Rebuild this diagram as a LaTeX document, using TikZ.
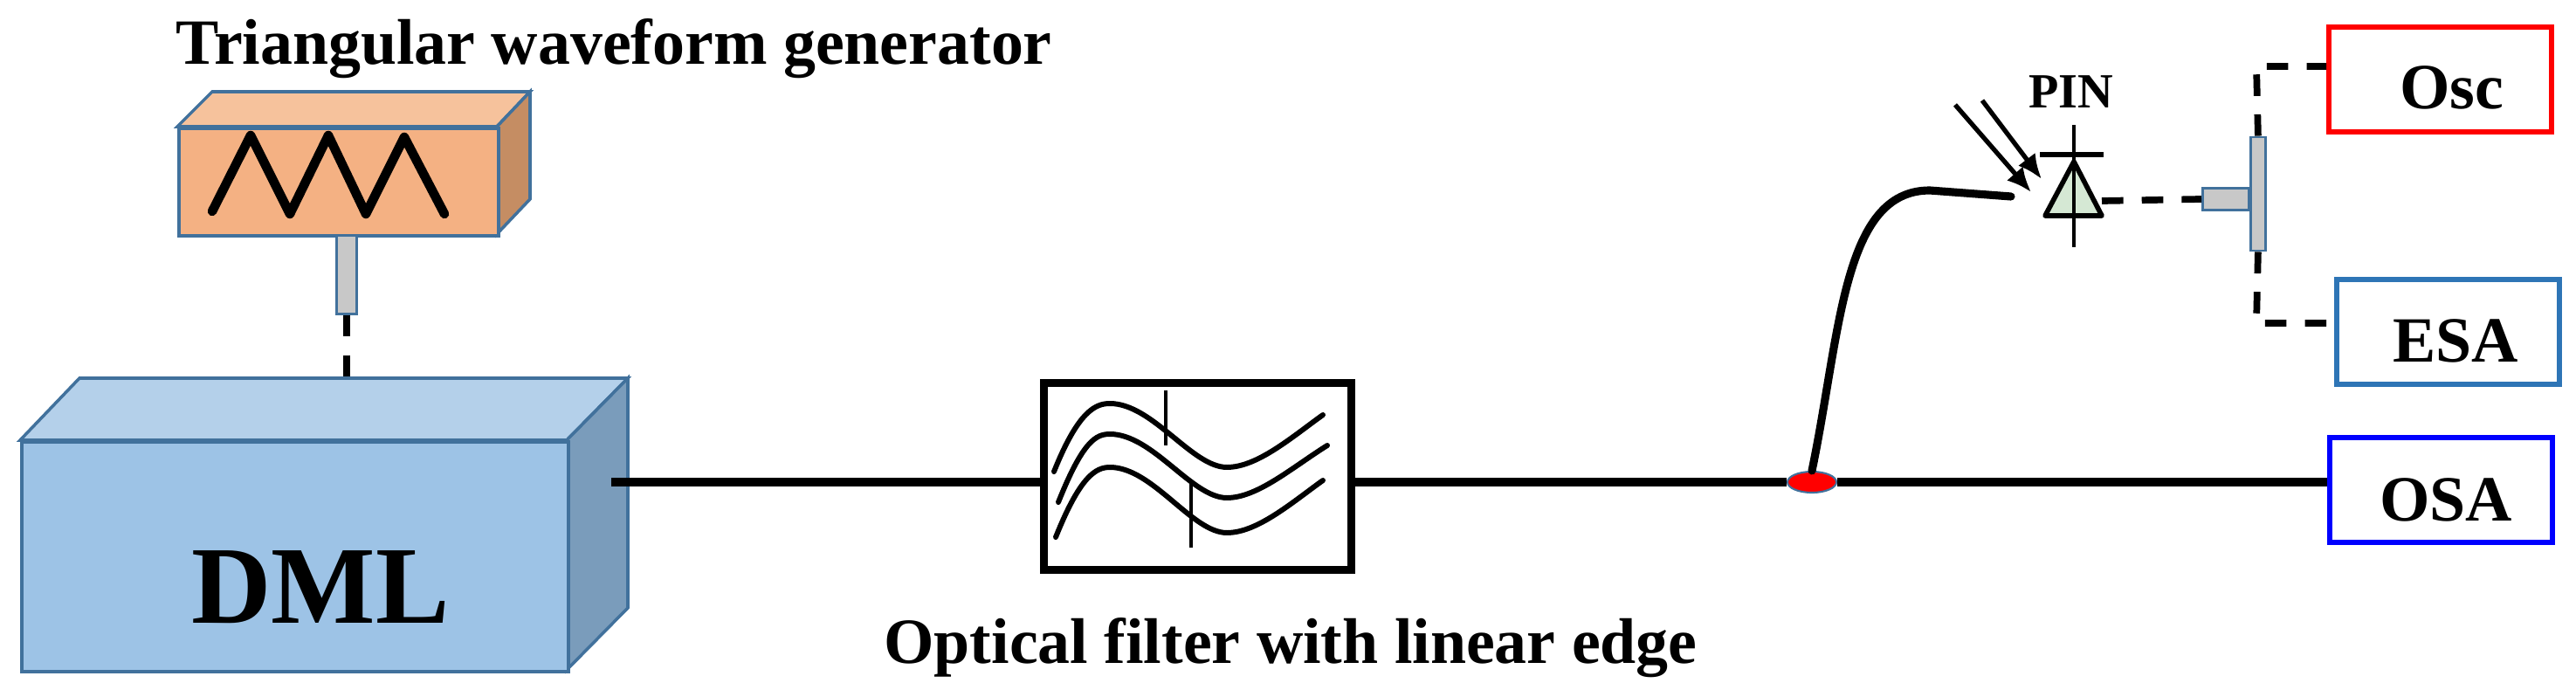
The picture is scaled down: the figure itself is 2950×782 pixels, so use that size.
\documentclass[tikz,border=0pt]{standalone}
\usepackage{fontspec}
\setmainfont{Liberation Serif}
\usetikzlibrary{arrows.meta,shapes.geometric}
\definecolor{genfront}{HTML}{F4B183}
\definecolor{gentop}{HTML}{F6C29C}
\definecolor{genside}{HTML}{C58D63}
\definecolor{dmlfront}{HTML}{9DC3E6}
\definecolor{dmltop}{HTML}{B4D0EA}
\definecolor{dmlside}{HTML}{7A9CBB}
\definecolor{edgeblue}{HTML}{41719C}
\definecolor{esablue}{HTML}{2E75B6}
\definecolor{stubgray}{HTML}{C8C8C8}
\definecolor{pingreen}{HTML}{D5E8D4}
\tikzset{
  lbl/.style={font=\bfseries\fontsize{21}{24}\selectfont, inner sep=0pt},
  fiber/.style={line width=2.6pt, black},
  elec/.style={line width=2.2pt, dash pattern=on 7pt off 6pt},
  instr/.style={draw, line width=1.6pt, fill=white, minimum width=2.55cm, minimum height=1.2cm},
  stub/.style={draw=edgeblue, fill=stubgray, line width=0.8pt},
  curve/.style={line width=1.7pt, line cap=round},
}
\begin{document}
\begin{tikzpicture}[x=0.01cm,y=-0.01cm]
\useasboundingbox (0,0) rectangle (2950,782);
% title
\node[lbl] (title) at (703,56) {Triangular waveform generator};
% generator box
\fill[gentop, draw=edgeblue, line width=1pt] (203,145) -- (243,105) -- (607,105) -- (569,145) -- cycle;
\fill[genside, draw=edgeblue, line width=1pt] (569,145) -- (607,105) -- (607,228) -- (569,268) -- cycle;
\node[draw=edgeblue, fill=genfront, line width=1pt, minimum width=3.66cm, minimum height=1.23cm, anchor=north west, inner sep=0pt] (gen) at (203,145) {};
\draw[line width=3pt, line join=round, line cap=round] (243,242) -- (287,155) -- (332,245) -- (376,155) -- (419,245) -- (463,157) -- (509,245);
\node[stub, minimum width=0.23cm, minimum height=0.9cm, inner sep=0pt, anchor=north] (gstub) at (397,268) {};
% DML box
\fill[dmltop, draw=edgeblue, line width=1pt] (23,504) -- (91,433) -- (719,433) -- (649,504) -- cycle;
\fill[dmlside, draw=edgeblue, line width=1pt] (649,504) -- (719,433) -- (719,696) -- (649,767) -- cycle;
\node[draw=edgeblue, fill=dmlfront, line width=1pt, minimum width=6.26cm, minimum height=2.63cm, anchor=north west, inner sep=0pt] (dml) at (23,504) {};
\node[font=\bfseries\fontsize{36}{40}\selectfont] (dmltext) at (367,672) {DML};
\coordinate (dmltop) at (397,433);
\draw[elec] (gstub.south) -- (dmltop);
% filter
\node[draw, line width=2.6pt, minimum width=3.52cm, minimum height=2.14cm, anchor=north west, inner sep=0pt] (filt) at (1191,434) {};
\draw[curve] (1207,540) .. controls (1235,470) and (1255,462) .. (1271,462) .. controls (1320,462) and (1365,535) .. (1405,535) .. controls (1440,535) and (1480,500) .. (1515,475);
\draw[curve] (1212,575) .. controls (1240,505) and (1255,497) .. (1271,497) .. controls (1320,497) and (1365,570) .. (1405,570) .. controls (1440,570) and (1480,535) .. (1520,510);
\draw[curve] (1209,615) .. controls (1237,545) and (1255,535) .. (1271,535) .. controls (1320,535) and (1365,610) .. (1405,610) .. controls (1440,610) and (1480,575) .. (1515,550);
\draw[line width=1pt] (1335,447) -- (1335,510);
\draw[line width=1pt] (1364,553) -- (1364,627);
\node[lbl] (filtcap) at (1478,742) {Optical filter with linear edge};
% coupler
\node[draw=edgeblue, fill=red, ellipse, minimum width=0.56cm, minimum height=0.24cm, inner sep=0pt, line width=0.6pt] (cpl) at (2075,552) {};
% instruments
\node[instr, draw=red, anchor=north west] (osc) at (2664,28) {};
\node[lbl, anchor=east] at (2868,100) {Osc};
\node[instr, draw=esablue, anchor=north west] (esa) at (2673,317) {};
\node[lbl, anchor=east] at (2885,390) {ESA};
\node[instr, draw=blue, anchor=north west] (osa) at (2665,498) {};
\node[lbl, anchor=east] at (2878,572) {OSA};
% fibers
\coordinate (dmlout) at (700,552);
\draw[fiber] (dmlout) -- (filt.west |- dmlout);
\draw[fiber] (filt.east |- dmlout) -- (cpl.west);
\draw[fiber] (cpl.east) -- (osa.west |- cpl);
\coordinate (fibend) at (2303,225);
\draw[fiber, line cap=round] (cpl.north) .. controls (2108,380) and (2110,218) .. (2210,218) -- (fibend);
% PIN diode
\node[lbl, font=\bfseries\fontsize{16}{18}\selectfont] (pin) at (2372,105) {PIN};
\draw[fill=pingreen, line width=1.6pt, line join=round] (2342,247) -- (2375,185) -- (2407,247) -- cycle;
\draw[line width=1.6pt] (2336,177) -- (2409,177);
\draw[line width=1pt] (2375,143) -- (2375,283);
\coordinate (pinout) at (2407,230);
\draw[line width=1.5pt, -{Latex[length=8pt,width=7pt]}] (2239,120) -- (2326,220);
\draw[line width=1.5pt, -{Latex[length=8pt,width=7pt]}] (2270,115) -- (2338,205);
% tee
\node[stub, minimum width=0.53cm, minimum height=0.25cm, inner sep=0pt, anchor=west] (tstub) at (2521,228) {};
\node[stub, minimum width=0.17cm, minimum height=1.3cm, inner sep=0pt, anchor=west] (tbar) at (2576,222) {};
\draw[elec] (pinout) -- (tstub.west);
\draw[elec] (tbar.north) -- (2584,76) -- (osc.west |- 0,76);
\draw[elec] (tbar.south) -- (2584,370) -- (esa.west |- 0,370);
\end{tikzpicture}
\end{document}
